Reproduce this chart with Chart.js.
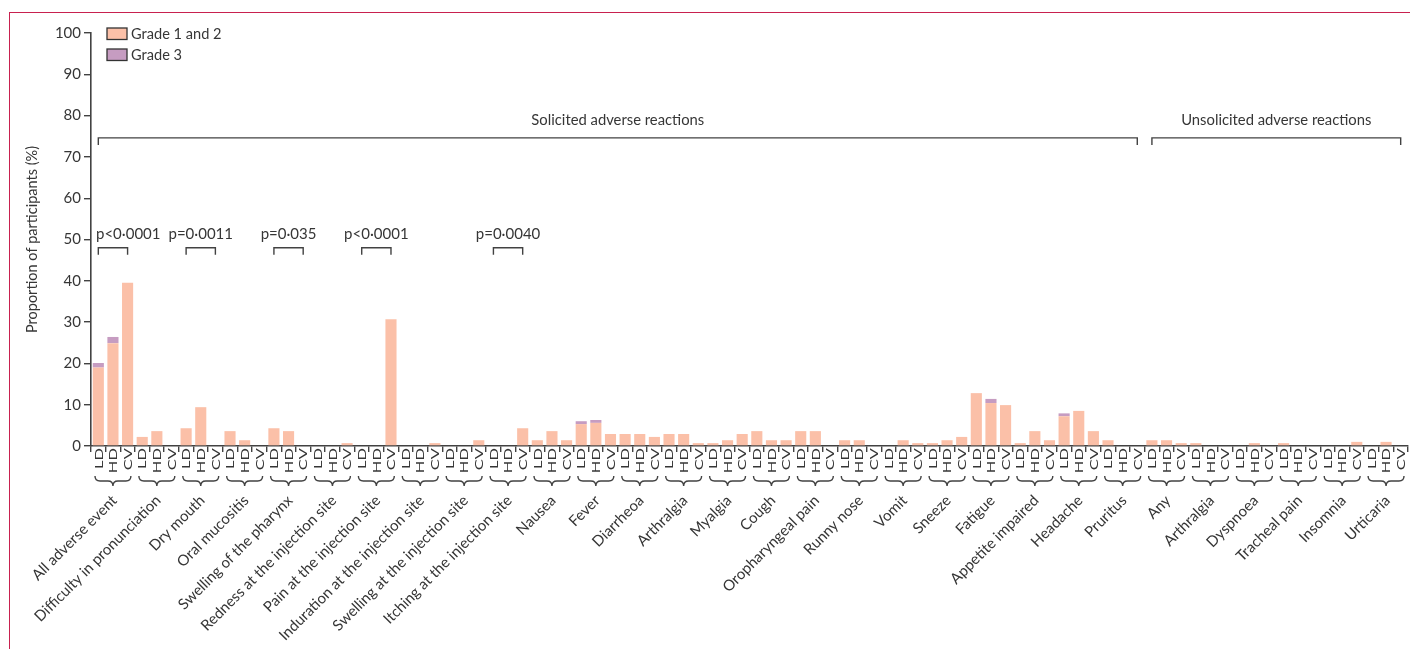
<!DOCTYPE html>
<html>
<head>
<meta charset="utf-8">
<script src="https://cdn.jsdelivr.net/npm/chart.js@4.4.1/dist/chart.umd.min.js"></script>
<style>
  html, body { margin: 0; padding: 0; background: #ffffff; }
  #wrap { position: relative; width: 1410px; height: 649px; overflow: hidden; }
  #wrap canvas { position: absolute; left: 0; top: 0; }
  #frame { position: absolute; left: 9px; top: 12px; right: -20px; bottom: -20px;
           border-left: 1px solid #c8214f; border-top: 1px solid #c8214f; pointer-events: none; }
</style>
</head>
<body>
<div id="wrap">
  <canvas id="chart" width="1410" height="649"></canvas>
  <div id="frame"></div>
</div>
<script>
// Adverse reactions by arm (LD = low dose, HD = high dose, CV = comparator vaccine)
const solicited = [
  'All adverse event', 'Difficulty in pronunciation', 'Dry mouth', 'Oral mucositis',
  'Swelling of the pharynx', 'Redness at the injection site', 'Pain at the injection site',
  'Induration at the injection site', 'Swelling at the injection site', 'Itching at the injection site',
  'Nausea', 'Fever', 'Diarrheoa', 'Arthralgia', 'Myalgia', 'Cough', 'Oropharyngeal pain',
  'Runny nose', 'Vomit', 'Sneeze', 'Fatigue', 'Appetite impaired', 'Headache', 'Pruritus'
];
const unsolicited = ['Any', 'Arthralgia', 'Dyspnoea', 'Tracheal pain', 'Insomnia', 'Urticaria'];
const arms = ['LD', 'HD', 'CV'];

// Grade 1 and 2 (%), one value per reaction, solicited then unsolicited
const grade12LD = [19.0, 2.2, 4.3, 3.6, 4.3, 0, 0, 0, 0, 0, 1.4, 5.3, 2.9, 2.9, 0.7, 3.6, 3.6, 1.4, 0, 0.7, 12.8, 0.7, 7.2, 1.4,
                   1.4, 0.7, 0, 0.7, 0, 0];
const grade12HD = [24.9, 3.6, 9.4, 1.4, 3.6, 0, 0, 0, 0, 0, 3.6, 5.6, 2.9, 2.9, 1.4, 1.4, 3.6, 1.4, 1.4, 1.4, 10.4, 3.6, 8.5, 0,
                   1.4, 0, 0.7, 0, 0, 1.0];
const grade12CV = [39.5, 0, 0, 0, 0, 0.7, 30.7, 0.7, 1.4, 4.3, 1.4, 2.9, 2.2, 0.7, 2.9, 1.4, 0, 0, 0.7, 2.2, 9.9, 1.4, 3.6, 0,
                   0.7, 0, 0, 0, 1.0, 0];
// Grade 3 (%)
const grade3LD = [1.1, 0, 0, 0, 0, 0, 0, 0, 0, 0, 0, 0.7, 0, 0, 0, 0, 0, 0, 0, 0, 0, 0, 0.7, 0,
                  0, 0, 0, 0, 0, 0];
const grade3HD = [1.5, 0, 0, 0, 0, 0, 0, 0, 0, 0, 0, 0.7, 0, 0, 0, 0, 0, 0, 0, 0, 1.0, 0, 0, 0,
                  0, 0, 0, 0, 0, 0];
const grade3CV = [0, 0, 0, 0, 0, 0, 0, 0, 0, 0, 0, 0, 0, 0, 0, 0, 0, 0, 0, 0, 0, 0, 0, 0,
                  0, 0, 0, 0, 0, 0];

// Pairwise comparisons (LD vs CV) shown above selected reactions
const pGroups = [0, 2, 4, 6, 9];
const pLabels = ['p<0·0001', 'p=0·0011', 'p=0·035', 'p<0·0001', 'p=0·0040'];
const pLevel = 48;          // y value of the comparison brackets
const sectionLevel = 74.6;  // y value of the section brackets
const yTicks = [0, 10, 20, 30, 40, 50, 60, 70, 80, 90, 100];

const FONT = 'Lato';
const TEXT = '#363636';
const LINE = '#424242';
const COL12 = '#fbc0a8';
const COL3 = '#c69cc1';

const groups = solicited.concat(unsolicited);
const labels = [];
const g12 = [];
const g3 = [];
groups.forEach((_, i) => {
  arms.forEach(a => labels.push(a));
  g12.push(grade12LD[i], grade12HD[i], grade12CV[i]);
  g3.push(grade3LD[i], grade3HD[i], grade3CV[i]);
});

function brace(ctx, x1, x2, y, h) {
  const xm = (x1 + x2) / 2, q = h / 2;
  ctx.beginPath();
  ctx.moveTo(x1, y);
  ctx.quadraticCurveTo(x1, y + q, x1 + q, y + q);
  ctx.lineTo(xm - q, y + q);
  ctx.quadraticCurveTo(xm, y + q, xm, y + h);
  ctx.quadraticCurveTo(xm, y + q, xm + q, y + q);
  ctx.lineTo(x2 - q, y + q);
  ctx.quadraticCurveTo(x2, y + q, x2, y);
  ctx.stroke();
}

function bracket(ctx, x1, x2, y, drop) {
  ctx.beginPath();
  ctx.moveTo(x1, y + drop);
  ctx.lineTo(x1, y);
  ctx.lineTo(x2, y);
  ctx.lineTo(x2, y + drop);
  ctx.stroke();
}

const annotations = {
  id: 'annotations',
  afterDraw(chart) {
    const { ctx, scales: { x, y }, chartArea } = chart;
    const step = x.getPixelForValue(1) - x.getPixelForValue(0);
    ctx.save();
    ctx.strokeStyle = LINE;
    ctx.fillStyle = TEXT;
    ctx.lineWidth = 1.4;

    // arm labels under each bar, set upright in a narrow face
    ctx.font = `16.5px ${FONT}`;
    ctx.textAlign = 'right';
    ctx.textBaseline = 'middle';
    labels.forEach((lab, i) => {
      ctx.save();
      ctx.translate(x.getPixelForValue(i) + 0.5, chartArea.bottom + 2);
      ctx.rotate(-Math.PI / 2);
      ctx.scale(1, 0.7);
      ctx.fillText(lab, 0, 0);
      ctx.restore();
    });

    // braces and reaction names under each LD/HD/CV triplet
    groups.forEach((name, i) => {
      const left = x.getPixelForValue(i * 3) - step / 2;
      const right = x.getPixelForValue(i * 3 + 2) + step / 2;
      const xm = (left + right) / 2;
      brace(ctx, left + 4, right - 4, 476, 10);
      ctx.save();
      ctx.translate(xm + 1.5, 498);
      ctx.rotate(-Math.PI / 4);
      ctx.font = `15px ${FONT}`;
      ctx.textAlign = 'right';
      ctx.textBaseline = 'middle';
      ctx.fillText(name, 0, 0);
      ctx.restore();
    });

    // section brackets
    const sy = y.getPixelForValue(sectionLevel);
    const sections = [
      ['Solicited adverse reactions', 0, solicited.length],
      ['Unsolicited adverse reactions', solicited.length, groups.length]
    ];
    ctx.font = `14.8px ${FONT}`;
    ctx.textAlign = 'center';
    ctx.textBaseline = 'alphabetic';
    sections.forEach(([title, a, b]) => {
      const x1 = x.getPixelForValue(a * 3);
      const x2 = x.getPixelForValue(b * 3 - 1);
      bracket(ctx, x1, x2, sy, 7);
      ctx.fillText(title, (x1 + x2) / 2, sy - 13);
    });

    // p-value brackets
    const py = y.getPixelForValue(pLevel);
    ctx.font = `15px ${FONT}`;
    pGroups.forEach((g, k) => {
      const x1 = x.getPixelForValue(g * 3);
      const x2 = x.getPixelForValue(g * 3 + 2);
      bracket(ctx, x1, x2, py, 7);
      const w = ctx.measureText(pLabels[k]).width;
      let cx = (x1 + x2) / 2;
      if (cx - w / 2 < chartArea.left + 5) cx = chartArea.left + 5 + w / 2;
      ctx.fillText(pLabels[k], cx, py - 9);
    });

    // legend
    ctx.textAlign = 'left';
    ctx.textBaseline = 'middle';
    ctx.font = `14.6px ${FONT}`;
    chart.data.datasets.forEach((ds, k) => {
      const top = 28 + k * 21;
      ctx.fillStyle = ds.backgroundColor;
      ctx.fillRect(107, top, 20, 11.5);
      ctx.strokeStyle = '#333';
      ctx.lineWidth = 1.3;
      ctx.strokeRect(107, top, 20, 11.5);
      ctx.fillStyle = TEXT;
      ctx.fillText(ds.label, 131, top + 6);
    });
    ctx.restore();
  }
};

new Chart(document.getElementById('chart'), {
  type: 'bar',
  data: {
    labels,
    datasets: [
      { label: 'Grade 1 and 2', data: g12, backgroundColor: COL12 },
      { label: 'Grade 3', data: g3, backgroundColor: COL3 }
    ]
  },
  options: {
    responsive: false,
    animation: false,
    devicePixelRatio: 1,
    categoryPercentage: 1,
    barPercentage: 0.76,
    layout: { padding: { top: 33, right: 2, left: 0, bottom: 0 } },
    plugins: { legend: { display: false }, tooltip: { enabled: false } },
    scales: {
      x: {
        stacked: true,
        offset: true,
        grid: { offset: true, drawOnChartArea: false, tickLength: 6, color: LINE, lineWidth: 1.4 },
        border: { color: LINE, width: 1.6 },
        ticks: { display: false, autoSkip: false },
        afterFit(scale) { scale.height = 203; }
      },
      y: {
        stacked: true,
        min: 0,
        max: 100,
        afterBuildTicks(scale) { scale.ticks = yTicks.map(v => ({ value: v })); },
        grid: { drawOnChartArea: false, tickLength: 7, color: LINE, lineWidth: 1.4 },
        border: { color: LINE, width: 1.6 },
        ticks: { padding: 3, font: { family: FONT, size: 15 }, color: TEXT },
        title: { display: true, text: 'Proportion of participants (%)', color: TEXT,
                 font: { family: FONT, size: 14.5 }, padding: { top: 24, bottom: 0 } },
        afterFit(scale) { scale.width = 91; }
      }
    }
  },
  plugins: [annotations]
});
</script>
</body>
</html>
